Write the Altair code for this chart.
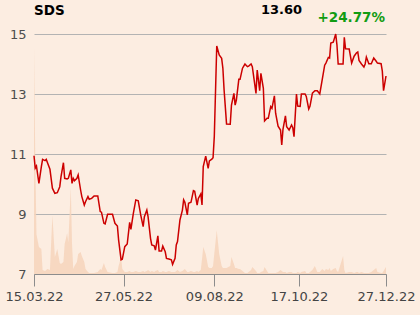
import altair as alt
import pandas as pd

ticker = "SDS"
last_price = "13.60"
change_pct = "+24.77%"

dates = [
    "2022-03-15", "2022-03-16", "2022-03-17", "2022-03-19", "2022-03-21", "2022-03-22", "2022-03-24", "2022-03-25",
    "2022-03-26", "2022-03-28", "2022-03-30", "2022-04-01", "2022-04-03", "2022-04-05", "2022-04-06", "2022-04-08",
    "2022-04-09", "2022-04-11", "2022-04-12", "2022-04-14", "2022-04-15", "2022-04-16", "2022-04-17", "2022-04-19",
    "2022-04-20", "2022-04-22", "2022-04-23", "2022-04-25", "2022-04-26", "2022-04-28", "2022-04-29", "2022-05-01",
    "2022-05-03", "2022-05-06", "2022-05-08", "2022-05-09", "2022-05-11", "2022-05-12", "2022-05-14", "2022-05-18",
    "2022-05-20", "2022-05-22", "2022-05-23", "2022-05-25", "2022-05-26", "2022-05-28", "2022-05-30", "2022-06-01",
    "2022-06-02", "2022-06-04", "2022-06-06", "2022-06-08", "2022-06-10", "2022-06-12", "2022-06-13", "2022-06-15",
    "2022-06-16", "2022-06-18", "2022-06-19", "2022-06-21", "2022-06-22", "2022-06-24", "2022-06-25", "2022-06-27",
    "2022-06-28", "2022-06-30", "2022-07-01", "2022-07-03", "2022-07-05", "2022-07-06", "2022-07-08", "2022-07-09",
    "2022-07-10", "2022-07-12", "2022-07-14", "2022-07-15", "2022-07-16", "2022-07-18", "2022-07-19", "2022-07-21",
    "2022-07-23", "2022-07-24", "2022-07-26", "2022-07-27", "2022-07-29", "2022-07-30", "2022-07-31", "2022-08-02",
    "2022-08-04", "2022-08-05", "2022-08-07", "2022-08-08", "2022-08-09", "2022-08-11", "2022-08-13", "2022-08-15",
    "2022-08-16", "2022-08-17", "2022-08-19", "2022-08-22", "2022-08-23", "2022-08-25", "2022-08-26", "2022-08-27",
    "2022-08-29", "2022-08-30", "2022-09-01", "2022-09-03", "2022-09-05", "2022-09-06", "2022-09-08", "2022-09-09",
    "2022-09-12", "2022-09-13", "2022-09-15", "2022-09-16", "2022-09-18", "2022-09-19", "2022-09-21", "2022-09-22",
    "2022-09-24", "2022-09-25", "2022-09-27", "2022-09-28", "2022-09-30", "2022-10-02", "2022-10-03", "2022-10-04",
    "2022-10-06", "2022-10-07", "2022-10-09", "2022-10-11", "2022-10-12", "2022-10-13", "2022-10-15", "2022-10-16",
    "2022-10-18", "2022-10-19", "2022-10-22", "2022-10-23", "2022-10-25", "2022-10-26", "2022-10-28", "2022-10-30",
    "2022-11-01", "2022-11-03", "2022-11-05", "2022-11-07", "2022-11-08", "2022-11-10", "2022-11-11", "2022-11-12",
    "2022-11-14", "2022-11-16", "2022-11-17", "2022-11-18", "2022-11-22", "2022-11-23", "2022-11-24", "2022-11-27",
    "2022-11-29", "2022-12-01", "2022-12-03", "2022-12-04", "2022-12-05", "2022-12-07", "2022-12-09", "2022-12-10",
    "2022-12-11", "2022-12-13", "2022-12-15", "2022-12-17", "2022-12-19", "2022-12-20", "2022-12-23", "2022-12-24",
    "2022-12-25", "2022-12-27",
]

close = [
    10.94, 10.53, 10.60, 10.02, 10.58, 10.82, 10.78, 10.82,
    10.71, 10.49, 9.86, 9.69, 9.71, 9.91, 10.24, 10.71,
    10.19, 10.17, 10.19, 10.47, 10.02, 10.19, 10.11, 10.19,
    10.30, 9.80, 9.58, 9.30, 9.41, 9.58, 9.49, 9.52,
    9.60, 9.60, 9.08, 9.06, 8.69, 8.67, 8.99, 8.99,
    8.69, 8.60, 8.13, 7.47, 7.49, 7.91, 8.00, 8.72,
    8.49, 9.02, 9.47, 9.44, 8.97, 8.58, 8.91, 9.13,
    8.91, 8.19, 7.97, 7.94, 7.80, 8.27, 7.77, 7.77,
    7.93, 7.74, 7.52, 7.50, 7.47, 7.32, 7.52, 7.97,
    8.08, 8.80, 9.13, 9.47, 9.39, 8.97, 9.36, 9.39,
    9.78, 9.76, 9.30, 9.52, 9.67, 9.30, 10.58, 10.93,
    10.52, 10.77, 10.83, 10.88, 11.58, 14.60, 14.30, 14.19,
    13.86, 13.13, 12.00, 11.99, 12.63, 13.02, 12.63, 12.80,
    13.49, 13.49, 13.86, 14.00, 13.91, 13.93, 14.00, 13.91,
    13.02, 13.80, 13.11, 13.69, 13.19, 12.10, 12.19, 12.19,
    12.58, 12.52, 12.94, 12.36, 11.93, 11.80, 11.30, 11.82,
    12.27, 11.91, 11.80, 11.97, 11.88, 11.58, 13.00, 12.60,
    12.59, 13.00, 13.00, 12.92, 12.50, 12.59, 13.03, 13.11,
    13.11, 13.00, 13.48, 13.96, 14.03, 14.22, 14.20, 14.70,
    14.73, 15.00, 14.64, 14.00, 14.00, 14.89, 14.51, 14.50,
    14.03, 14.26, 14.37, 14.40, 14.12, 14.00, 13.90, 14.00,
    14.23, 14.01, 14.01, 14.20, 14.09, 14.03, 14.01, 13.76,
    13.11, 13.60,
]

volume = [
    908, 480, 160, 108, 100, 16, 12, 16,
    20, 16, 236, 68, 100, 44, 40, 48,
    120, 164, 128, 348, 120, 20, 32, 48,
    80, 88, 72, 48, 20, 8, 4, 4,
    4, 8, 20, 16, 44, 28, 8, 4,
    4, 8, 32, 68, 20, 8, 8, 12,
    8, 8, 12, 8, 8, 12, 8, 12,
    16, 8, 12, 8, 12, 16, 8, 8,
    12, 8, 8, 12, 8, 8, 8, 12,
    16, 8, 12, 16, 20, 8, 8, 12,
    8, 8, 12, 8, 16, 60, 108, 80,
    28, 24, 24, 32, 80, 176, 80, 32,
    24, 24, 24, 32, 68, 40, 24, 24,
    20, 20, 12, 4, 4, 8, 16, 28,
    12, 4, 4, 8, 12, 28, 12, 4,
    4, 4, 4, 4, 8, 16, 12, 8,
    8, 4, 8, 8, 4, 4, 4, 8,
    4, 8, 12, 4, 4, 8, 16, 32,
    8, 8, 20, 12, 20, 16, 24, 12,
    20, 24, 12, 8, 72, 16, 4, 8,
    8, 4, 8, 8, 4, 8, 4, 4,
    4, 4, 8, 16, 24, 8, 4, 4,
    12, 28,
]

tick_dates = [(2022, 3, 15), (2022, 5, 27), (2022, 8, 9), (2022, 10, 17), (2022, 12, 27)]
y_ticks = [7, 9, 11, 13, 15]

df = pd.DataFrame({"date": dates, "close": close, "volume": volume})

FONT = "DejaVu Sans"
BG = "#fcede1"

def dt(t):
    return alt.DateTime(year=t[0], month=t[1], date=t[2], utc=True)

x_enc = alt.X(
    "date:T",
    scale=alt.Scale(type="utc", domain=[dt(tick_dates[0]), dt(tick_dates[-1])]),
    axis=alt.Axis(
        values=[dt(t) for t in tick_dates],
        labelExpr="utcFormat(datum.value, '%d.%m.%y')",
        title=None,
        grid=False,
        domainColor="#8c8c8c",
        tickColor="#8c8c8c",
        tickSize=12,
        labelPadding=4,
        labelFont=FONT,
        labelFontSize=13,
        labelColor="#444444",
        labelFlush=False,
        labelOverlap=False,
    ),
)

area = alt.Chart(df).mark_area(color="#f6d4bb", opacity=0.85).encode(
    x=x_enc,
    y=alt.Y("volume:Q", scale=alt.Scale(domain=[0, 1000]), axis=None),
)

line = alt.Chart(df).mark_line(color="#cc0000", strokeWidth=1.5).encode(
    x=x_enc,
    y=alt.Y(
        "close:Q",
        scale=alt.Scale(domain=[7, 15.3], nice=False, zero=False),
        axis=alt.Axis(
            values=y_ticks,
            title=None,
            grid=True,
            gridColor="#b3b3b3",
            ticks=False,
            domain=False,
            labelPadding=8,
            labelFont=FONT,
            labelFontSize=13,
            labelColor="#4d4d4d",
        ),
    ),
)

hdr = pd.DataFrame({"t": [0]})
t_ticker = alt.Chart(hdr).mark_text(
    text=ticker, font=FONT, fontSize=13.5, fontWeight="bold", color="#000000", align="left", baseline="alphabetic"
).encode(x=alt.value(0), y=alt.value(-10))
t_price = alt.Chart(hdr).mark_text(
    text=last_price, font=FONT, fontSize=13, fontWeight="bold", color="#000000", align="right", baseline="alphabetic"
).encode(x=alt.value(268), y=alt.value(-11))
t_change = alt.Chart(hdr).mark_text(
    text=change_pct, font=FONT, fontSize=13.5, fontWeight="bold", color="#129c12", align="right", baseline="alphabetic"
).encode(x=alt.value(351), y=alt.value(-3))

chart = (
    alt.layer(area, line, t_ticker, t_price, t_change)
    .resolve_scale(y="independent")
    .properties(
        width=352,
        height=249,
        background=BG,
        autosize=alt.AutoSizeParams(type="none"),
        padding={"left": 34, "top": 25, "right": 34, "bottom": 41},
    )
    .configure_view(stroke=None)
)

chart.save("out.html", embed_options={"renderer": "svg", "actions": False})
